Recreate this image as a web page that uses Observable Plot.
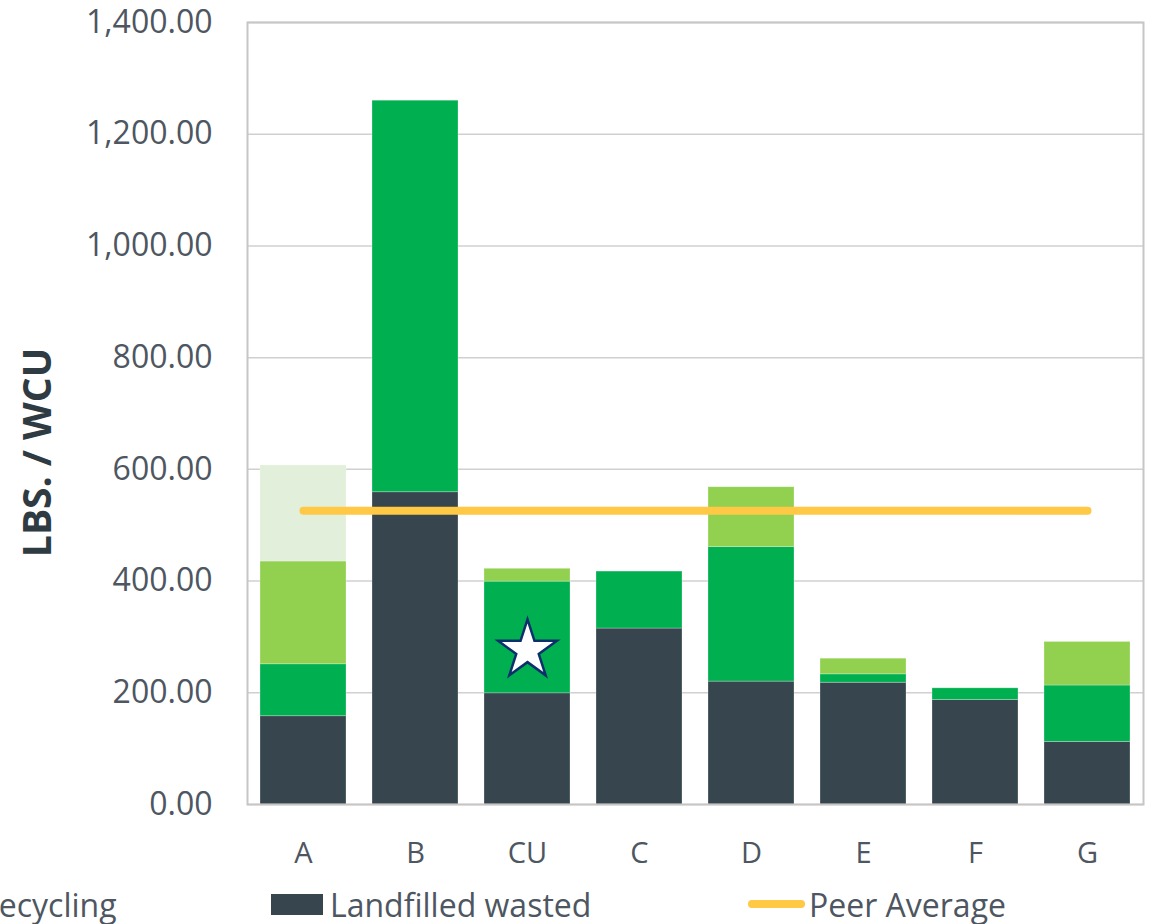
<!DOCTYPE html>
<html>
<head>
<meta charset="utf-8">
<script src="https://cdn.jsdelivr.net/npm/d3@7"></script>
<script src="https://cdn.jsdelivr.net/npm/@observablehq/plot@0.6"></script>
<style>
  html, body { margin: 0; padding: 0; background: #ffffff; overflow: hidden; }
  body { width: 1156px; height: 924px; position: relative; font-family: "Open Sans", sans-serif; }
  #chart svg { display: block; }
  .legend-item { position: absolute; top: 884px; height: 40px; display: flex; align-items: center;
    font-family: "Open Sans", sans-serif; font-size: 32px; color: #4d5661; white-space: nowrap; }
  .sw { display: inline-block; }
</style>
</head>
<body>
<div id="chart"></div>
<script>
const categories = ["A", "B", "CU", "C", "D", "E", "F", "G"];
const landfilled = [158, 559, 199, 315, 220, 218, 187, 112];
const recycling  = [93, 701, 200, 102, 241, 15, 21, 101];
const composting = [184, 0, 23, 0, 107, 28, 0, 78];
const reuse      = [172, 0, 0, 0, 0, 0, 0, 0];
const peerAverage = 526;
const yTicks = [0, 200, 400, 600, 800, 1000, 1200, 1400];
const seriesNames = ["Landfilled wasted", "Recycling", "Composting", "Reuse"];
const seriesColors = ["#37454e", "#00b050", "#92d050", "#e2efda"];
const starCategory = "CU";
const starValue = 276;
const yLabel = "LBS. / WCU";

const seriesValues = [landfilled, recycling, composting, reuse];
const rows = [];
seriesNames.forEach((s, si) => {
  categories.forEach((c, ci) => {
    rows.push({category: c, series: s, value: seriesValues[si][ci]});
  });
});
const peerRows = categories.map(c => ({category: c, value: peerAverage}));

const textColor = "#4d5661";

const chart = Plot.plot({
  width: 1156,
  height: 880,
  marginLeft: 247,
  marginRight: 13,
  marginTop: 22,
  marginBottom: 76,
  style: {fontFamily: "Open Sans, sans-serif", background: "#ffffff"},
  x: {domain: categories, paddingInner: 0.23, paddingOuter: 0.115, label: null},
  y: {domain: [0, 1400], label: null},
  color: {domain: seriesNames, range: seriesColors},
  marks: [
    Plot.gridY(yTicks, {stroke: "#d0d0d0", strokeOpacity: 1, strokeWidth: 1.5}),
    Plot.barY(rows, {x: "category", y: "value", fill: "series", stroke: "#ffffff", strokeOpacity: 0.35, strokeWidth: 0.75}),
    Plot.frame({stroke: "#c6c6c6", strokeWidth: 2}),
    Plot.line(peerRows, {x: "category", y: "value", stroke: "#ffc845", strokeWidth: 8, strokeLinecap: "round"}),
    Plot.dot([{category: starCategory, value: starValue}], {x: "category", y: "value", symbol: "star", r: 18.5, fill: "#ffffff", stroke: "#0d2f6b", strokeWidth: 2.5}),
    Plot.axisY({ticks: yTicks, tickFormat: d3.format(",.2f"), tickSize: 0, tickPadding: 35, fontSize: 32, fill: textColor, label: null}),
    Plot.axisX({tickSize: 0, tickPadding: 38, fontSize: 29, fill: textColor, label: null}),
    Plot.text([yLabel], {frameAnchor: "left", dx: -209, dy: 39, rotate: -90, textAnchor: "middle", text: d => d, fontSize: 39, fontWeight: "bold", fill: "#2f3b42"})
  ]
});
document.getElementById("chart").appendChild(chart);

// legend (HTML, below the SVG)
function addItem(left, label, swatch) {
  const div = document.createElement("div");
  div.className = "legend-item";
  div.style.left = left + "px";
  if (swatch) div.appendChild(swatch);
  const span = document.createElement("span");
  span.textContent = label;
  div.appendChild(span);
  document.body.appendChild(div);
}
addItem(-21, seriesNames[1], null);
const sq = document.createElement("span");
sq.className = "sw";
sq.style.cssText = `width:52px;height:21px;background:${seriesColors[0]};margin-right:7px;`;
addItem(271, seriesNames[0], sq);
const ln = document.createElement("span");
ln.className = "sw";
ln.style.cssText = "width:57px;height:8px;border-radius:4px;background:#ffc845;margin-right:4px;";
addItem(748, "Peer Average", ln);
</script>
</body>
</html>
